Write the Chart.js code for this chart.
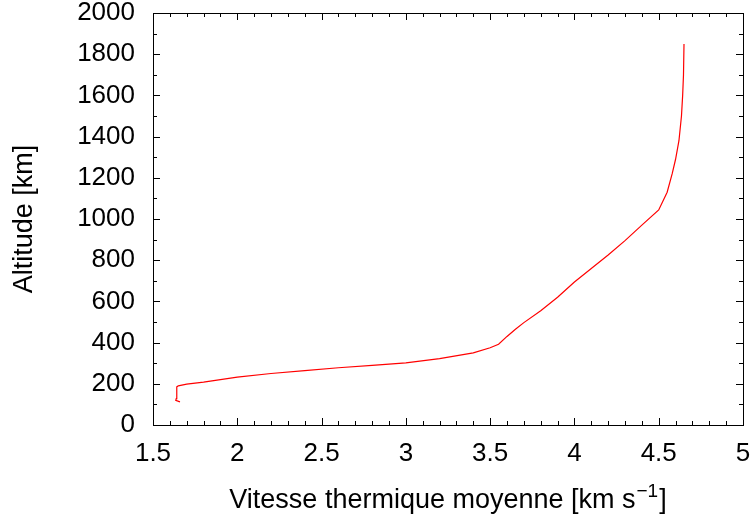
<!DOCTYPE html>
<html>
<head>
<meta charset="utf-8">
<script src="https://cdn.jsdelivr.net/npm/chart.js@4/dist/chart.umd.min.js"></script>
<style>
  html, body { margin: 0; padding: 0; background: #fff; }
  #wrap { width: 755px; height: 517px; }
</style>
</head>
<body>
<div id="wrap"><canvas id="profileChart"></canvas></div>
<script>
// Mean thermal speed (km/s) vs altitude (km)
const speed = [1.66, 1.635, 1.638, 1.64, 1.642, 1.65, 1.7, 1.8, 1.9, 2.0, 2.2, 2.4, 2.6, 2.8, 3.0,
               3.2, 3.4, 3.5, 3.55, 3.6, 3.65, 3.7, 3.8, 3.9, 4.0, 4.1, 4.2, 4.3, 4.4, 4.5,
               4.55, 4.58, 4.6, 4.62, 4.635, 4.642, 4.647, 4.65];
const altitude = [112, 120, 128, 150, 185, 190, 198, 208, 220, 232, 250, 264, 278, 289, 302,
                  322, 350, 375, 392, 430, 465, 497, 555, 620, 694, 760, 825, 895, 970, 1044,
                  1130, 1220, 1290, 1380, 1500, 1600, 1700, 1850];

const xTicks = [1.5, 2, 2.5, 3, 3.5, 4, 4.5, 5];
const yTicks = [0, 200, 400, 600, 800, 1000, 1200, 1400, 1600, 1800, 2000];

const xTitle = ['Vitesse thermique moyenne [km s', '\u22121', ']'];
const yTitle = 'Altitude [km]';

const FONT = "'Liberation Sans', Arial, sans-serif";

// gnuplot-style frame: inward major + minor ticks on all four sides
const frameTicks = {
    id: 'frameTicks',
    afterDraw(chart) {
        const c = chart.ctx;
        const a = chart.chartArea;
        const x = chart.scales.x, y = chart.scales.y;
        c.save();
        c.strokeStyle = '#000';
        c.lineWidth = 1;
        c.beginPath();
        for (let i = 15; i <= 50; i++) {
            const len = (i % 5 === 0) ? 7 : 4;
            const px = Math.round(x.getPixelForValue(i / 10)) + 0.5;
            c.moveTo(px, a.bottom); c.lineTo(px, a.bottom - len);
            c.moveTo(px, a.top); c.lineTo(px, a.top + len);
        }
        for (let v = 0; v <= 2000; v += 100) {
            const len = (v % 200 === 0) ? 7 : 4;
            const py = Math.round(y.getPixelForValue(v)) + 0.5;
            c.moveTo(a.left, py); c.lineTo(a.left + len, py);
            c.moveTo(a.right, py); c.lineTo(a.right - len, py);
        }
        c.stroke();
        c.strokeRect(Math.round(a.left) + 0.5, Math.round(a.top) + 0.5,
                     Math.round(a.right - a.left), Math.round(a.bottom - a.top));

        // x title with a real superscript
        const big = '27px ' + FONT, small = '19px ' + FONT;
        c.fillStyle = '#000';
        c.textBaseline = 'alphabetic';
        c.textAlign = 'left';
        c.font = big;
        const w0 = c.measureText(xTitle[0]).width;
        const w2 = c.measureText(xTitle[2]).width;
        c.font = small;
        const w1 = c.measureText(xTitle[1]).width;
        const total = w0 + w1 + w2 + 2;
        let tx = (a.left + a.right) / 2 - total / 2;
        const base = 508;
        c.font = big;
        c.fillText(xTitle[0], tx, base);
        tx += w0 + 1;
        c.font = small;
        c.fillText(xTitle[1], tx, base - 11);
        tx += w1 + 1;
        c.font = big;
        c.fillText(xTitle[2], tx, base);
        c.restore();
    }
};

const ctx = document.getElementById('profileChart').getContext('2d');
new Chart(ctx, {
    type: 'scatter',
    data: {
        datasets: [{
            data: speed.map((v, i) => ({ x: v, y: altitude[i] })),
            showLine: true,
            borderColor: '#ff0000',
            borderWidth: 1.2,
            pointRadius: 0,
            tension: 0
        }]
    },
    options: {
        responsive: true,
        maintainAspectRatio: false,
        animation: false,
        layout: { padding: { top: 13, right: 12, left: 0, bottom: 0 } },
        plugins: { legend: { display: false }, tooltip: { enabled: false } },
        scales: {
            x: {
                type: 'linear',
                min: 1.5, max: 5,
                afterBuildTicks: s => { s.ticks = xTicks.map(v => ({ value: v })); },
                afterFit: s => { s.height = 92; s.paddingLeft = 0; s.paddingRight = 0; },
                grid: { display: false, drawTicks: false },
                border: { display: false },
                ticks: { color: '#000', font: { family: FONT, size: 26 }, padding: 13, maxRotation: 0,
                         callback: v => String(v) }
            },
            y: {
                type: 'linear',
                min: 0, max: 2000,
                afterBuildTicks: s => { s.ticks = yTicks.map(v => ({ value: v })); },
                afterFit: s => { s.width = 153; s.paddingTop = 0; s.paddingBottom = 0; },
                grid: { display: false, drawTicks: false },
                border: { display: false },
                ticks: { color: '#000', font: { family: FONT, size: 26 }, padding: 18,
                         callback: v => String(v) },
                title: {
                    display: true,
                    text: yTitle,
                    color: '#000',
                    font: { family: FONT, size: 27 },
                    padding: { top: 8, bottom: 0 }
                }
            }
        }
    },
    plugins: [frameTicks]
});
</script>
</body>
</html>
